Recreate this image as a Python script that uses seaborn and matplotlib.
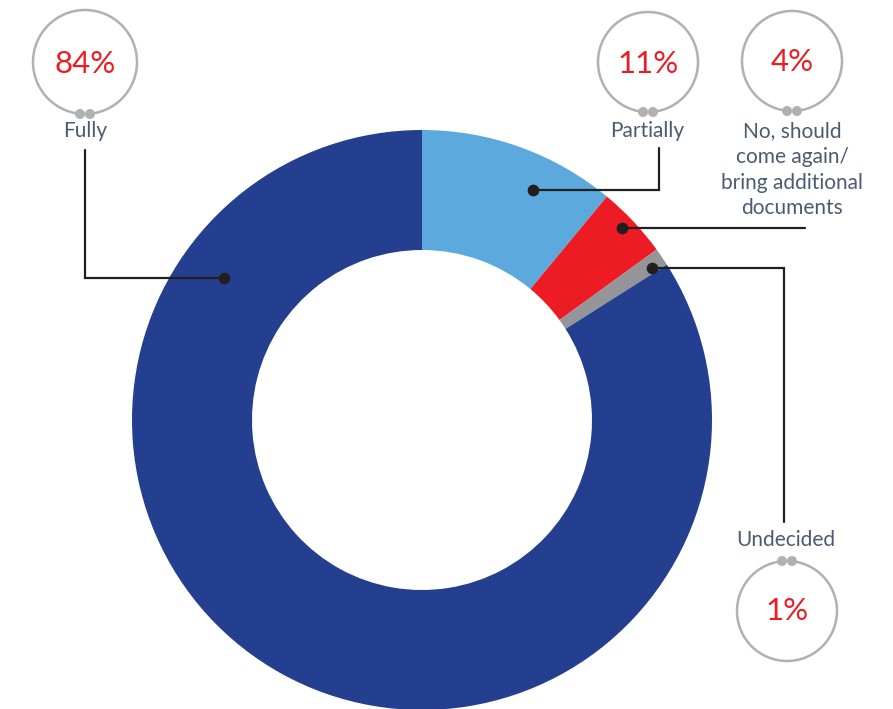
import matplotlib
matplotlib.use("Agg")
import matplotlib.pyplot as plt
from matplotlib.patches import Circle
import seaborn as sns

# ---- data ----
categories = ["Partially", "No, should\ncome again/\nbring additional\ndocuments", "Undecided", "Fully"]
values = [11, 4, 1, 84]
pct_labels = ["11%", "4%", "1%", "84%"]
colors = ["#5ca9de", "#ed1c24", "#939598", "#243f8f"]

sns.set_theme(style="white")
plt.rcParams['font.family'] = ['Lato', 'DejaVu Sans']

W, H = 893, 709
fig = plt.figure(figsize=(W / 100, H / 100), dpi=100)
ax = fig.add_axes([0, 0, 1, 1])
ax.set_xlim(0, W)
ax.set_ylim(0, H)
ax.set_aspect('equal')
ax.axis('off')

def Y(y):
    return H - y

cx, cy, R = 422, 420, 290
ax.pie(values, colors=colors, startangle=90, counterclock=False,
       radius=R, center=(cx, Y(cy)),
       wedgeprops=dict(width=120, linewidth=0))
ax.set_xlim(0, W)
ax.set_ylim(0, H)

line_c = "#231f20"
ring_c = "#b1b1b3"
text_c = "#4b5b72"
red = "#ed1c24"

# leader lines: (dot, path)
leaders = [
    [(533, 190), (659, 190), (659, 148)],          # Partially
    [(622, 228), (805, 228)],                      # No
    [(652, 268), (784, 268), (784, 522)],          # Undecided
    [(224, 278), (85, 278), (85, 150)],            # Fully
]
for pts in leaders:
    xs = [p[0] for p in pts]
    ys = [Y(p[1]) for p in pts]
    ax.plot(xs, ys, color=line_c, lw=1.6, solid_joinstyle='miter', zorder=5)
    ax.scatter([pts[0][0]], [Y(pts[0][1])], s=55, color=line_c, zorder=6)

# bubbles: center, radius, dots at top or bottom
bubbles = [
    ((648, 62), 50, 'bottom'),
    ((792, 61), 50, 'bottom'),
    ((787, 611), 50, 'top'),
    ((85, 62), 52, 'bottom'),
]
for (bx, by), r, side in bubbles:
    ax.add_patch(Circle((bx, Y(by)), r, fill=False, edgecolor=ring_c, lw=1.8, zorder=4))
    dy = r if side == 'bottom' else -r
    for ddx in (-5, 5):
        ax.add_patch(Circle((bx + ddx, Y(by + dy)), 5, facecolor=ring_c, edgecolor='none', zorder=5))

pct_pos = [(648, 64), (792, 62), (787, 611), (85, 64)]
for (px, py), t in zip(pct_pos, pct_labels):
    ax.text(px, Y(py), t, color=red, fontsize=22.5, ha='center', va='center', zorder=7)

label_pos = [(647, 131), (792, 131), (786, 540), (85, 131)]
for (lx, ly), t in zip(label_pos, categories):
    if '\n' in t:
        ax.text(lx, Y(ly - 10), t, color=text_c, fontsize=15, ha='center', va='top',
                linespacing=1.36, zorder=7)
    else:
        ax.text(lx, Y(ly), t, color=text_c, fontsize=15, ha='center', va='center', zorder=7)

fig.savefig("out.png", dpi=100, facecolor='white')
